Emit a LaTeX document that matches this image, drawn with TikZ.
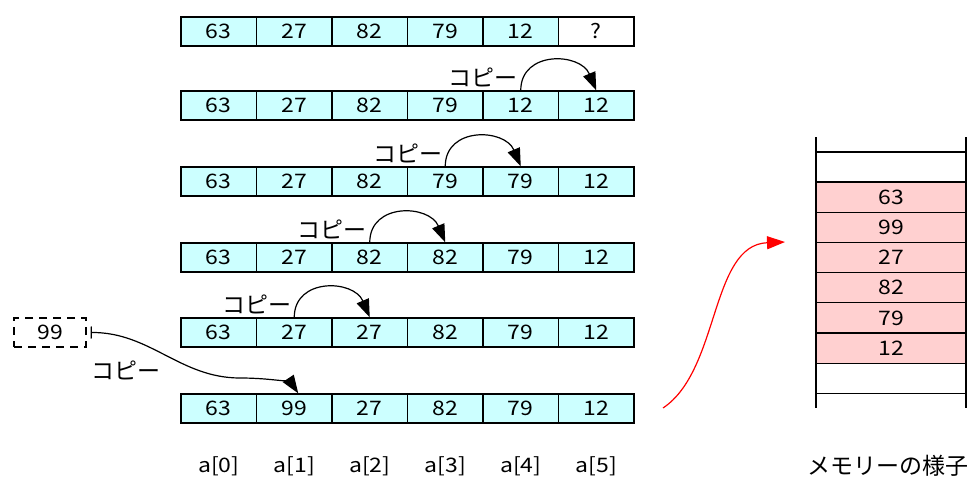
\documentclass[tikz,border=0pt]{standalone}
\usepackage{fontspec}
\setmainfont{Noto Sans CJK JP}
\newfontfamily\numfont[FakeStretch=1.15]{Noto Sans CJK JP}
\usetikzlibrary{arrows.meta}
\definecolor{cellblue}{HTML}{CCFFFF}
\definecolor{cellpink}{HTML}{FFD0D0}

\begin{document}
\begin{tikzpicture}[x=1pt, y=-1pt, >={Triangle[length=18pt, width=13pt]},
  every node/.style={font=\numfont\fontsize{20}{24}\selectfont},
  cell/.style={draw, line width=1.3pt, fill=cellblue, minimum width=75.5pt, minimum height=29pt, inner sep=0pt},
  mem/.style={draw, line width=1.3pt, fill=cellpink, minimum width=150pt, minimum height=30.2pt, inner sep=0pt},
  copy/.style={->, line width=1.2pt},
  jp/.style={font=\fontsize{23}{26}\selectfont, inner sep=3pt}]

\useasboundingbox (0,0) rectangle (976,479);

% Draw the first row (last slot still empty)
\foreach \v [count=\c] in {63,27,82,79,12}
  \node[cell] (r1-\c) at (143.25+75.5*\c, 31.5) {\v};
\node[cell, fill=white] (r1-6) at (596.25, 31.5) {?};

% Draw the rows after each copy
\foreach \r/\y/\vals in {2/105.5/{63,27,82,79,12,12}, 3/181.5/{63,27,82,79,79,12},
    4/257.5/{63,27,82,82,79,12}, 5/332.5/{63,27,27,82,79,12}, 6/408.5/{63,99,27,82,79,12}}
  \foreach \v [count=\c] in \vals
    \node[cell] (r\r-\c) at (143.25+75.5*\c, \y) {\v};

% Draw the copy arrows
\draw[copy] (r2-5.north) .. controls +(0,-40) and +(-16,-38) .. (r2-6.north);
\node[jp, anchor=south east] (cp2) at (r2-5.north) {コピー};
\draw[copy] (r3-4.north) .. controls +(0,-40) and +(-16,-38) .. (r3-5.north);
\node[jp, anchor=south east] (cp3) at (r3-4.north) {コピー};
\draw[copy] (r4-3.north) .. controls +(0,-40) and +(-16,-38) .. (r4-4.north);
\node[jp, anchor=south east] (cp4) at (r4-3.north) {コピー};
\draw[copy] (r5-2.north) .. controls +(0,-40) and +(-16,-38) .. (r5-3.north);
\node[jp, anchor=south east] (cp5) at (r5-2.north) {コピー};

% The value to insert
\node[cell, fill=none, minimum width=72pt, dash pattern=on 8pt off 6pt] (tmp) at (50,332.5) {99};
\draw[line width=1.2pt, {Bar[width=12pt, line width=1.2pt]}->] ([xshift=4pt]tmp.east) .. controls (150,332) and (180,378) .. (240,378)
  .. controls (275,378) and (292,384) .. ([xshift=4pt]r6-2.north);
\node[jp] (cp6) at (126,370) {コピー};

% Index labels
\foreach \c in {0,...,5}
  \node (idx\c) at (218.75+75.5*\c, 466) {a[\c]};

% Draw the memory
\draw[line width=1.3pt] (816,137) -- (816,408);
\draw[line width=1.3pt] (966,137) -- (966,408);
\node[mem, fill=white] (mtop) at (891,167) {};
\foreach \v [count=\k] in {63,99,27,82,79,12}
  \node[mem] (m\k) at (891, 166.9+30.2*\k) {\v};
\node[mem, fill=white] (mbot) at (891,378.5) {};
\node[jp] (memlbl) at (888,466) {メモリーの様子};

% Red arrow to the memory
\coordinate (rowend) at (663,408);
\coordinate (memin) at (785,242);
\draw[->, red, line width=1.2pt] (rowend) .. controls (720,370) and (710,245) .. (memin);

\end{tikzpicture}
\end{document}
